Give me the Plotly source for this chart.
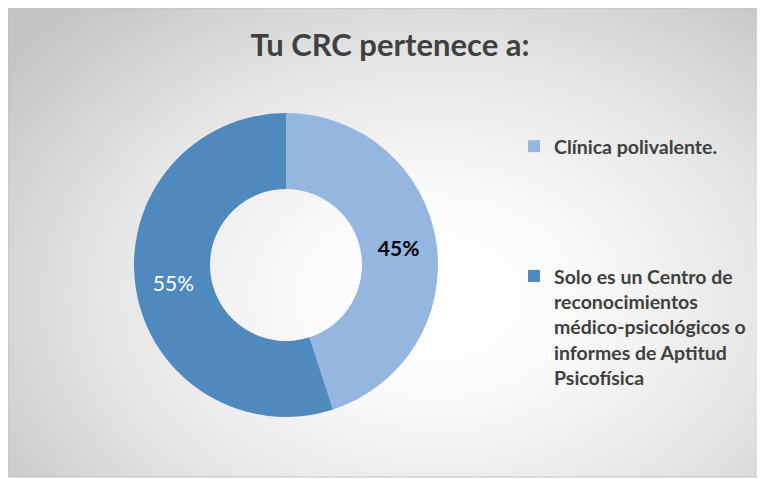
import base64
import plotly.graph_objects as go

# ---- data ----
categories = [
    "Clínica polivalente.",
    "Solo es un Centro de<br>reconocimientos<br>médico-psicológicos o<br>informes de Aptitud<br>Psicofísica",
]
values = [45, 55]
slice_colors = ["#95B7DF", "#4F89BD"]
label_colors = ["#000000", "#FFFFFF"]
label_templates = ["<b>%{percent:.0%}</b>", "%{percent:.0%}"]
title_text = "Tu CRC pertenece a:"

# pad first legend entry so second entry sits lower (as in reference)
legend_labels = [categories[0] + "<br>\u00a0<br>\u00a0<br>\u00a0<br>\u00a0", categories[1]]

# the page body adds an 8px offset; work in window pixels and convert
OFF = 8
W, H = 765 - OFF, 479 - OFF
ml, mt, mr, mb = 0, 0, 3, 2
PW, PH = W - ml - mr, H - mt - mb

def px_x(wx):
    return (wx - OFF - ml) / PW

def px_y(wy):
    return (PH - (wy - OFF - mt)) / PH

# gradient box in window coords spans x 5..762, y 3..477; paper shows the part from 8
GX0, GY0 = 5 - OFF, 3 - OFF
GW, GH = 757, 474
svg = f'''<svg xmlns="http://www.w3.org/2000/svg" width="{PW}" height="{PH}" viewBox="0 0 {PW} {PH}" preserveAspectRatio="none">
<defs><radialGradient id="g" cx="{GX0 + 0.57*GW}" cy="{GY0 + 0.62*GH}" r="{0.72*GW}" gradientUnits="userSpaceOnUse" gradientTransform="translate({GX0 + 0.57*GW} {GY0 + 0.62*GH}) scale(1 {GH/GW*1.15}) translate({-(GX0 + 0.57*GW)} {-(GY0 + 0.62*GH)})">
<stop offset="0" stop-color="#FFFFFF"/>
<stop offset="0.25" stop-color="#FBFBFB"/>
<stop offset="0.6" stop-color="#E6E6E6"/>
<stop offset="1" stop-color="#C4C4C4"/>
</radialGradient></defs>
<rect x="0" y="0" width="{PW}" height="{PH}" fill="url(#g)"/>
</svg>'''
bg_src = "data:image/svg+xml;base64," + base64.b64encode(svg.encode()).decode()

fig = go.Figure(
    go.Pie(
        labels=legend_labels,
        values=values,
        hole=0.5,
        sort=False,
        direction="clockwise",
        rotation=0,
        marker=dict(colors=slice_colors, line=dict(width=0)),
        texttemplate=label_templates,
        textposition="inside",
        insidetextorientation="horizontal",
        textfont=dict(family="Lato", size=21, color=label_colors),
        domain=dict(x=[px_x(134), px_x(438)], y=[px_y(417), px_y(113)]),
        hoverinfo="skip",
    )
)

fig.update_layout(
    width=W,
    height=H,
    margin=dict(l=ml, r=mr, t=mt, b=mb, autoexpand=False),
    paper_bgcolor="#FFFFFF",
    plot_bgcolor="rgba(0,0,0,0)",
    title=dict(
        text="<b>" + title_text + "</b>",
        x=px_x(390),
        xref="paper",
        xanchor="center",
        y=1 - (45 - OFF) / H,
        yref="container",
        yanchor="middle",
        font=dict(family="Lato", size=31, color="#404040"),
    ),
    legend=dict(
        x=px_x(514),
        xanchor="left",
        y=px_y(127),
        yanchor="top",
        valign="top",
        bgcolor="rgba(0,0,0,0)",
        font=dict(family="Lato", size=19.5, color="#404040", weight="bold"),
        traceorder="normal",
    ),
    images=[
        dict(
            source=bg_src,
            xref="paper",
            yref="paper",
            x=0,
            y=1,
            sizex=1,
            sizey=1,
            sizing="stretch",
            xanchor="left",
            yanchor="top",
            layer="below",
        )
    ],
    shapes=[
        dict(
            type="rect",
            xref="paper",
            yref="paper",
            x0=0,
            y0=0,
            x1=1,
            y1=1,
            line=dict(color="#BFBFBF", width=1),
            fillcolor="rgba(0,0,0,0)",
            layer="below",
        )
    ],
)

fig.write_html("out.html")
